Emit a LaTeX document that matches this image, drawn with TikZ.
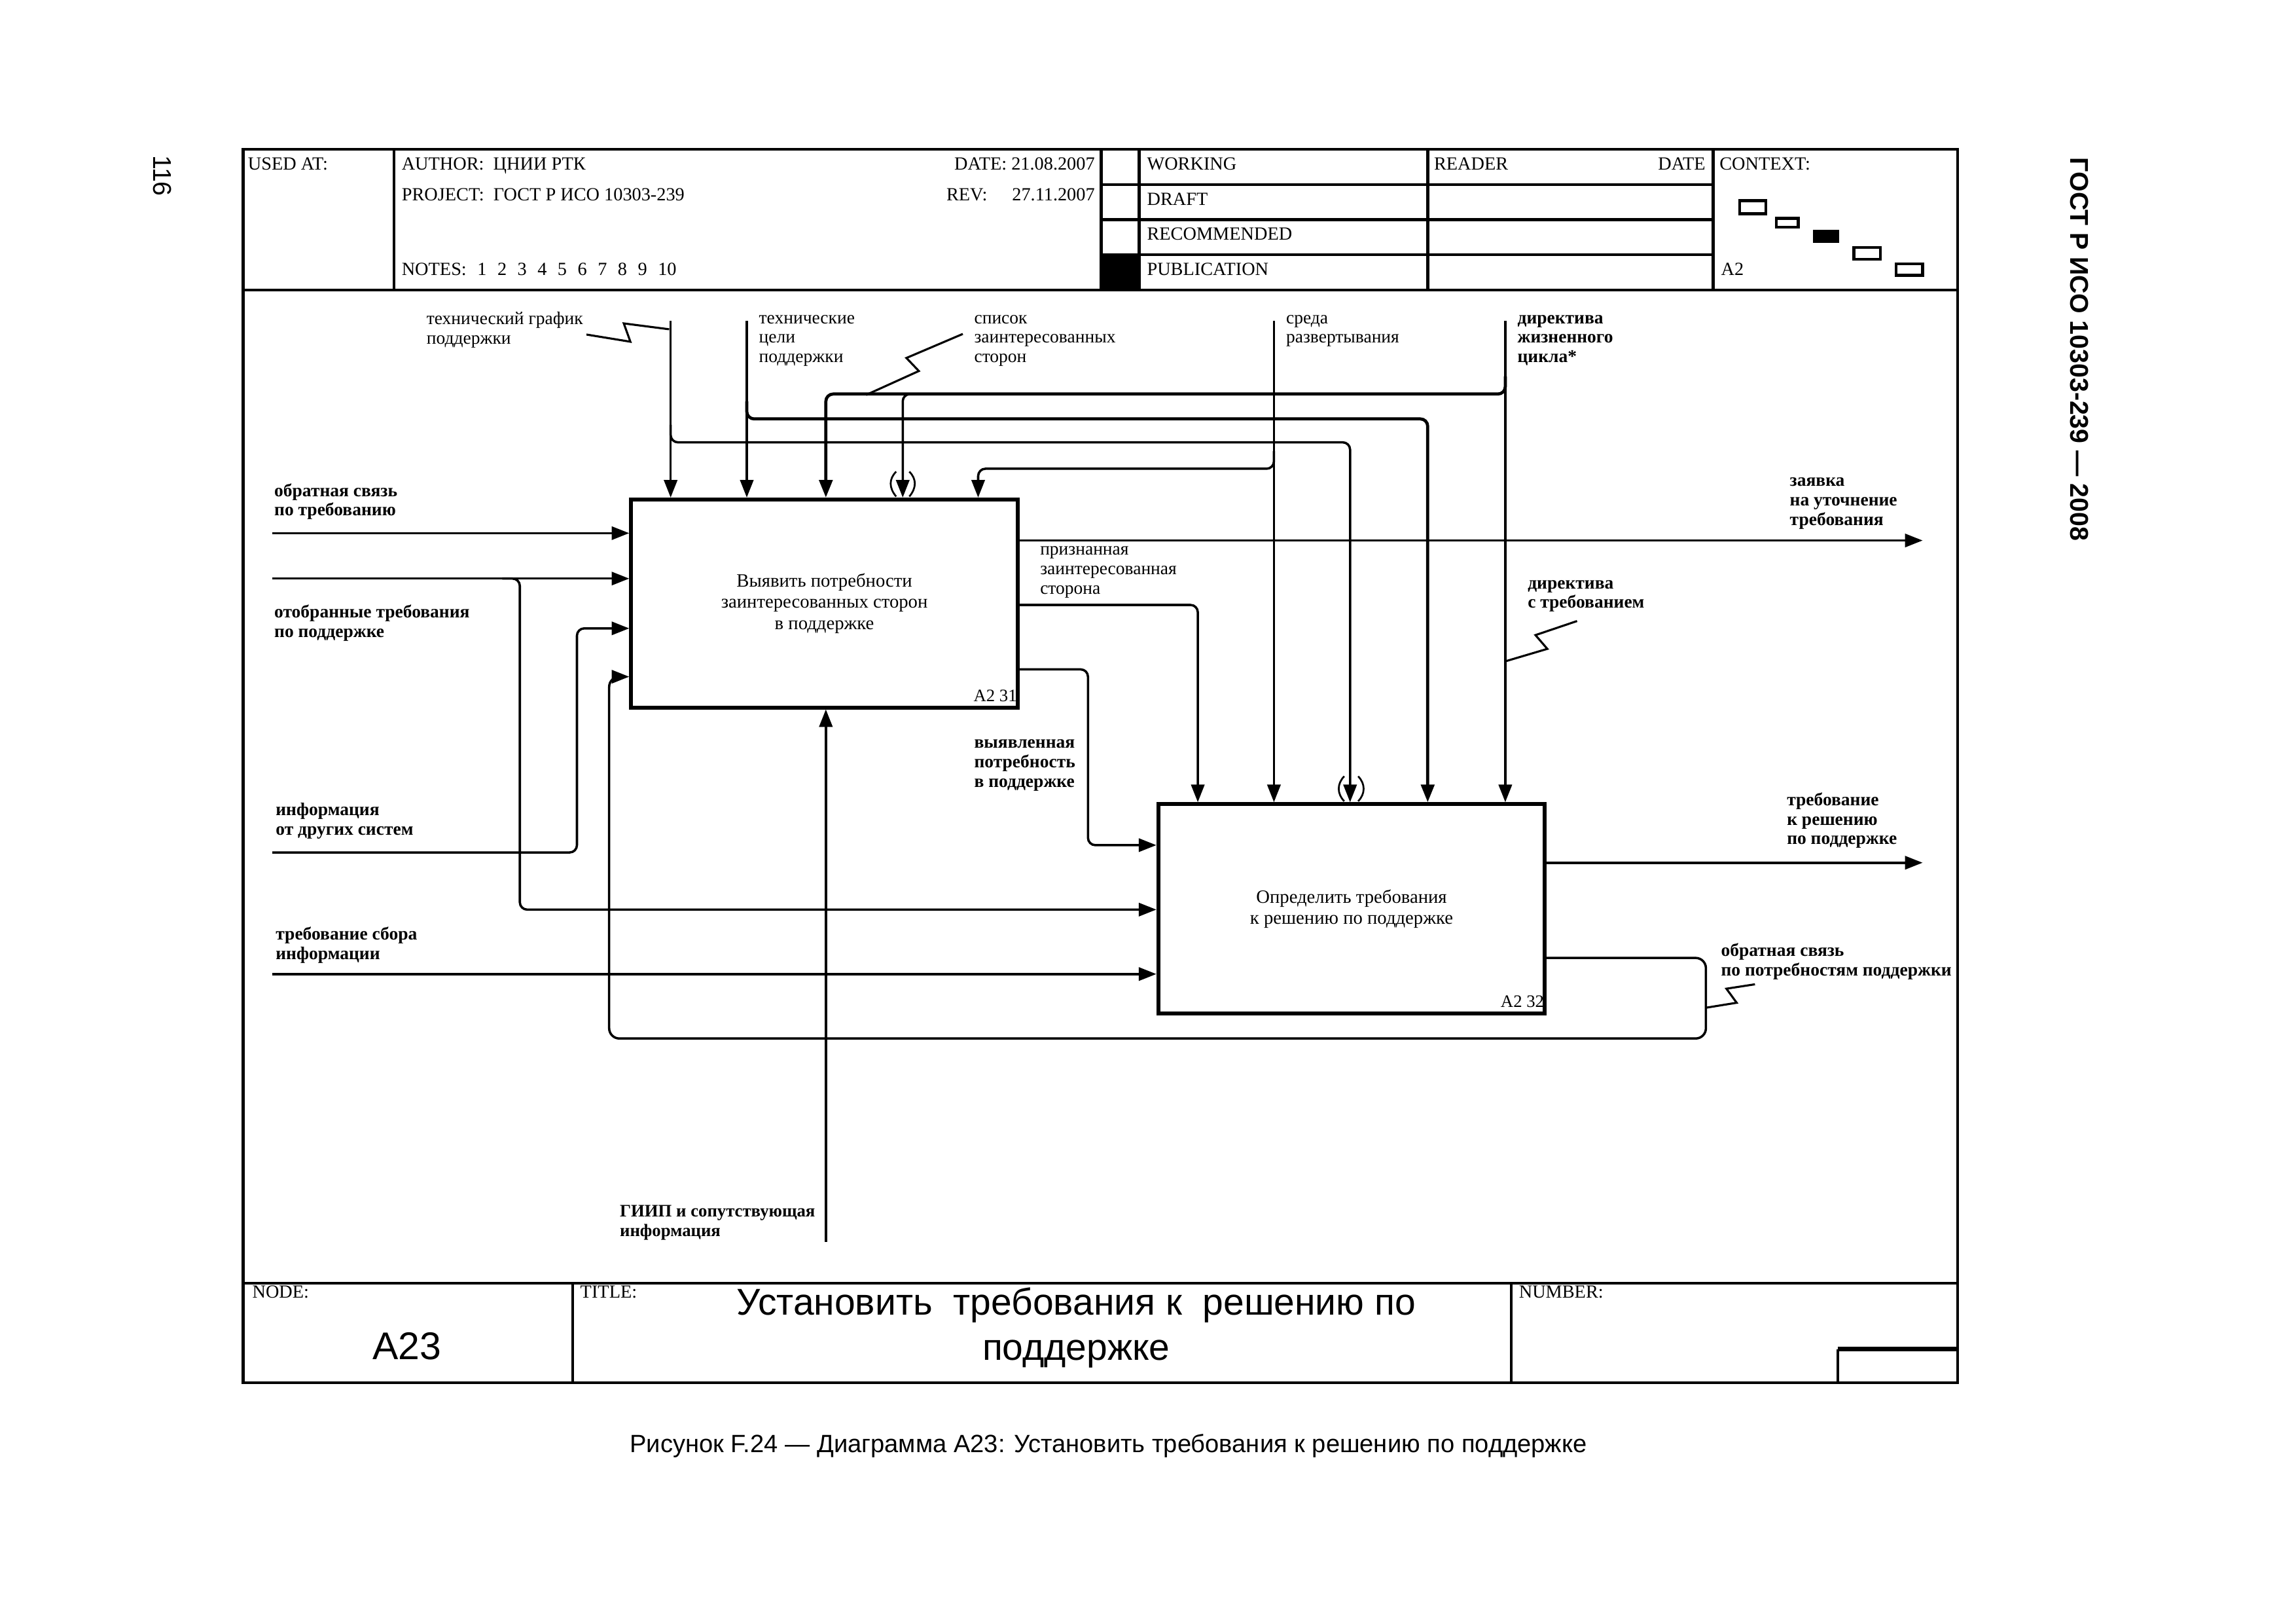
\documentclass[tikz,border=0pt]{standalone}
\usepackage{fontspec}
\setmainfont{Liberation Serif}
\setsansfont{Liberation Sans}
\newfontfamily\sansf{Liberation Sans}
\usetikzlibrary{arrows.meta}
\newcommand\notesgap{\hspace{4.2pt}}
\begin{document}
\begin{tikzpicture}[x=0.02cm,y=-0.02cm,
  hdr/.style={font=\fontsize{7.2}{8}\selectfont, inner sep=0, anchor=mid west},
  hdre/.style={hdr, anchor=mid east},
  lbl/.style={font=\fontsize{7}{7.6}\selectfont, inner sep=0, anchor=north west, align=left},
  lblb/.style={lbl, font=\fontsize{7}{7.6}\selectfont\bfseries},
  proc/.style={draw, line width=1.5pt, minimum width=5.28cm, minimum height=2.84cm, align=center, font=\fontsize{7.3}{8.2}\selectfont, inner sep=0},
  idn/.style={font=\fontsize{6.8}{8}\selectfont, inner sep=0},
  flow/.style={line width=0.9pt, rounded corners=0.1cm, -{Triangle[length=0.24cm,width=0.18cm]}},
  squig/.style={line width=0.8pt},
  paren/.style={line width=0.7pt},
  frame/.style={line width=1.1pt},
  ctx/.style={line width=1.1pt},
]
\useasboundingbox (0,0) rectangle (1568,1108);
\fill[white] (0,0) rectangle (1568,1108);

% ---------- frame ----------
\draw[frame] (166,102) rectangle (1337,944);
\draw[frame] (166,198) -- (1337,198);
\draw[frame] (166,876) -- (1337,876);
\draw[frame] (269,102) -- (269,198);
\draw[frame] (752,102) -- (752,198);
\draw[frame] (778,102) -- (778,198);
\draw[frame] (975,102) -- (975,198);
\draw[frame] (1170,102) -- (1170,198);
\draw[frame] (752,126) -- (1170,126);
\draw[frame] (752,150) -- (1170,150);
\draw[frame] (752,174) -- (1170,174);
\fill (752,174) rectangle (778,198);
\draw[frame] (391,876) -- (391,944);
\draw[frame] (1032,876) -- (1032,944);
\draw[frame] (1255,944) -- (1255,921);
\draw[line width=1.8pt] (1255,921) -- (1337,921);

% ---------- header texts ----------
\node[hdr] (h1) at (169,112) {USED AT:};
\node[hdr] (h2) at (274,112) {AUTHOR:\ \ ЦНИИ РТК};
\node[hdr] (h3) at (274,133) {PROJECT:\ \ ГОСТ Р ИСО 10303-239};
\node[hdr] (h4) at (274,184) {NOTES:\notesgap 1\notesgap 2\notesgap 3\notesgap 4\notesgap 5\notesgap 6\notesgap 7\notesgap 8\notesgap 9\notesgap 10};
\node[hdre] (h5) at (748,112) {DATE:\ 21.08.2007};
\node[hdr] (h6) at (646,133) {REV:};
\node[hdre] (h7) at (748,133) {27.11.2007};
\node[hdr] (h8) at (783,112) {WORKING};
\node[hdr] (h9) at (783,136) {DRAFT};
\node[hdr] (h10) at (783,160) {RECOMMENDED};
\node[hdr] (h11) at (783,184) {PUBLICATION};
\node[hdr] (h12) at (979,112) {READER};
\node[hdre] (h13) at (1165,112) {DATE};
\node[hdr] (h14) at (1174,112) {CONTEXT:};
\node[hdr] (h15) at (1175,184) {A2};
\draw[ctx] (1188,137) rectangle (1206,146);
\draw[ctx] (1213,149) rectangle (1228,155);
\fill (1238,157) rectangle (1256,166);
\draw[ctx] (1266,169) rectangle (1284,177);
\draw[ctx] (1295,180) rectangle (1313,188);

% ---------- title block ----------
\node[hdr] (n1) at (172,882) {NODE:};
\node[hdr] (n2) at (396,882) {TITLE:};
\node[hdr] (n3) at (1037,882) {NUMBER:};
\node[font=\sansf\fontsize{15}{18}\selectfont, inner sep=0] (n4) at (278,919) {A23};
\node[font=\sansf\fontsize{14.5}{17.6}\selectfont, align=center, inner sep=0] (n5) at (735,906.5) {Установить\ \ требования к\ \ решению по\\поддержке};

% ---------- page texts ----------
\node[font=\sansf\fontsize{9.7}{12}\selectfont, inner sep=0] (cap) at (757,987) {Рисунок F.24 — Диаграмма A23: Установить требования к решению по поддержке};
\node[font=\sansf\fontsize{10}{12}\selectfont, rotate=-90, inner sep=0] (pg) at (111,120) {116};
\node[font=\sansf\fontsize{10}{12}\selectfont\bfseries, rotate=-90, inner sep=0] (std) at (1420,238.5) {ГОСТ Р ИСО 10303-239 — 2008};

% ---------- activity boxes ----------
\node[proc] (a1) at (563,412) {Выявить потребности\\заинтересованных сторон\\в поддержке};
\node[proc, minimum height=2.86cm] (a2) at (923,620.5) {Определить требования\\к решению по поддержке};
\node[idn, anchor=south east] (a1id) at ([xshift=-0.03cm,yshift=0.1cm]a1.south east) {A2 31};
\node[idn, anchor=south east] (a2id) at ([xshift=-0.03cm,yshift=0.1cm]a2.south east) {A2 32};

% ---------- controls ----------
\coordinate (c1) at (458,219);
\coordinate (c2) at (510,219);
\coordinate (c4) at (870,219);
\coordinate (c5) at (1028,219);
\draw[flow] (c1) -- (c1 |- a1.north);
\draw[flow] (c2) -- (c2 |- a1.north);
\draw[flow] (c4) -- (c4 |- a2.north);
\draw[flow] (c5) -- (c5 |- a2.north);
\coordinate (j1) at (458,290);
\coordinate (j2) at (510,274);
\coordinate (j3) at (1028,257);
\coordinate (j3b) at (632,269);
\coordinate (j4) at (870,308);
\draw[flow] (j1) -- (458,302) -- (922,302) -- (922,0 |- a2.north);
\draw[flow, line width=1.2pt] (j2) -- (510,286) -- (975,286) -- (975,0 |- a2.north);
\draw[flow, line width=1.2pt] (j3) -- (1028,269) -- (564,269) -- (564,0 |- a1.north);
\draw[flow] (j3b) -- (616.5,269) -- (616.5,0 |- a1.north);
\draw[flow] (j4) -- (870,320) -- (668,320) -- (668,0 |- a1.north);

% tunnel parentheses
\draw[paren] (612,322) .. controls (607,327) and (607,333) .. (612,339);
\draw[paren] (621,322) .. controls (626,327) and (626,333) .. (621,339);
\draw[paren] (918,530) .. controls (913,535) and (913,542) .. (918,547);
\draw[paren] (927.5,530) .. controls (932.5,535) and (932.5,542) .. (927.5,547);

% ---------- inputs ----------
\coordinate (i1) at (186,364);
\coordinate (i2) at (186,395);
\coordinate (i3) at (186,582);
\coordinate (i4) at (186,665);
\coordinate (j5) at (343,395);
\draw[flow] (i1) -- (i1 -| a1.west);
\draw[flow] (i2) -- (i2 -| a1.west);
\draw[flow] (j5) -- (355,395) -- (355,621) -- (a2.west |- 0,621);
\draw[flow] (i3) -- (394,582) -- (394,429) -- (a1.west |- 0,429);
\draw[flow] (i4) -- (i4 -| a2.west);

% ---------- mechanism ----------
\coordinate (m1) at (564,848);
\draw[flow] (m1) -- (m1 |- a1.south);

% ---------- outputs ----------
\coordinate (o1) at (1313,369);
\coordinate (o2) at (1313,589);
\draw[flow] (o1 -| a1.east) -- (o1);
\draw[flow] (a1.east |- 0,413) -- (818,413) -- (818,0 |- a2.north);
\draw[flow] (a1.east |- 0,457) -- (743,457) -- (743,577) -- (a2.west |- 0,577);
\draw[flow] (o2 -| a2.east) -- (o2);
\draw[flow, rounded corners=0.14cm] (a2.east |- 0,654) -- (1165,654) -- (1165,709) -- (416,709) -- (416,462) -- (a1.west |- 0,462);

% ---------- squiggles ----------
\draw[squig] (400.5,228.4) -- (430.5,233.3) -- (426,220.8) -- (457,224.8);
\draw[squig] (657.5,228) -- (619,244.4) -- (627.5,253.3) -- (591.5,269.6);
\draw[squig] (1077,424) -- (1048.6,433.6) -- (1056.7,443) -- (1028,451.5);
\draw[squig] (1198.5,672) -- (1179,675) -- (1186,684.6) -- (1165,688);

% ---------- labels ----------
\node[lbl] (l1) at (291,212.7) {технический график\\поддержки};
\node[lbl] (l2) at (518,214.7) {технические\\цели\\поддержки};
\node[lbl] (l3) at (665,214.7) {список\\заинтересованных\\сторон};
\node[lbl] (l4) at (878,214.7) {среда\\развертывания};
\node[lblb] (l5) at (1036,214.7) {директива\\жизненного\\цикла*};
\node[lblb] (l6) at (187,329.7) {обратная связь\\по требованию};
\node[lblb] (l7) at (187,412.7) {отобранные требования\\по поддержке};
\node[lblb] (l8) at (188,547.7) {информация\\от других систем};
\node[lblb] (l9) at (188,632.7) {требование сбора\\информации};
\node[lbl] (l10) at (710,372.7) {признанная\\заинтересованная\\сторона};
\node[lblb] (l11) at (665,504.7) {выявленная\\потребность\\в поддержке};
\node[lblb] (l12) at (1222,325.7) {заявка\\на уточнение\\требования};
\node[lblb] (l13) at (1043,395.7) {директива\\с требованием};
\node[lblb] (l14) at (1220,540.7) {требование\\к решению\\по поддержке};
\node[lblb] (l15) at (1175,643.7) {обратная связь\\по потребностям поддержки};
\node[lblb, font=\fontsize{6.8}{7.6}\selectfont\bfseries] (l16) at (423,822.7) {ГИИП и сопутствующая\\информация};
\end{tikzpicture}
\end{document}
